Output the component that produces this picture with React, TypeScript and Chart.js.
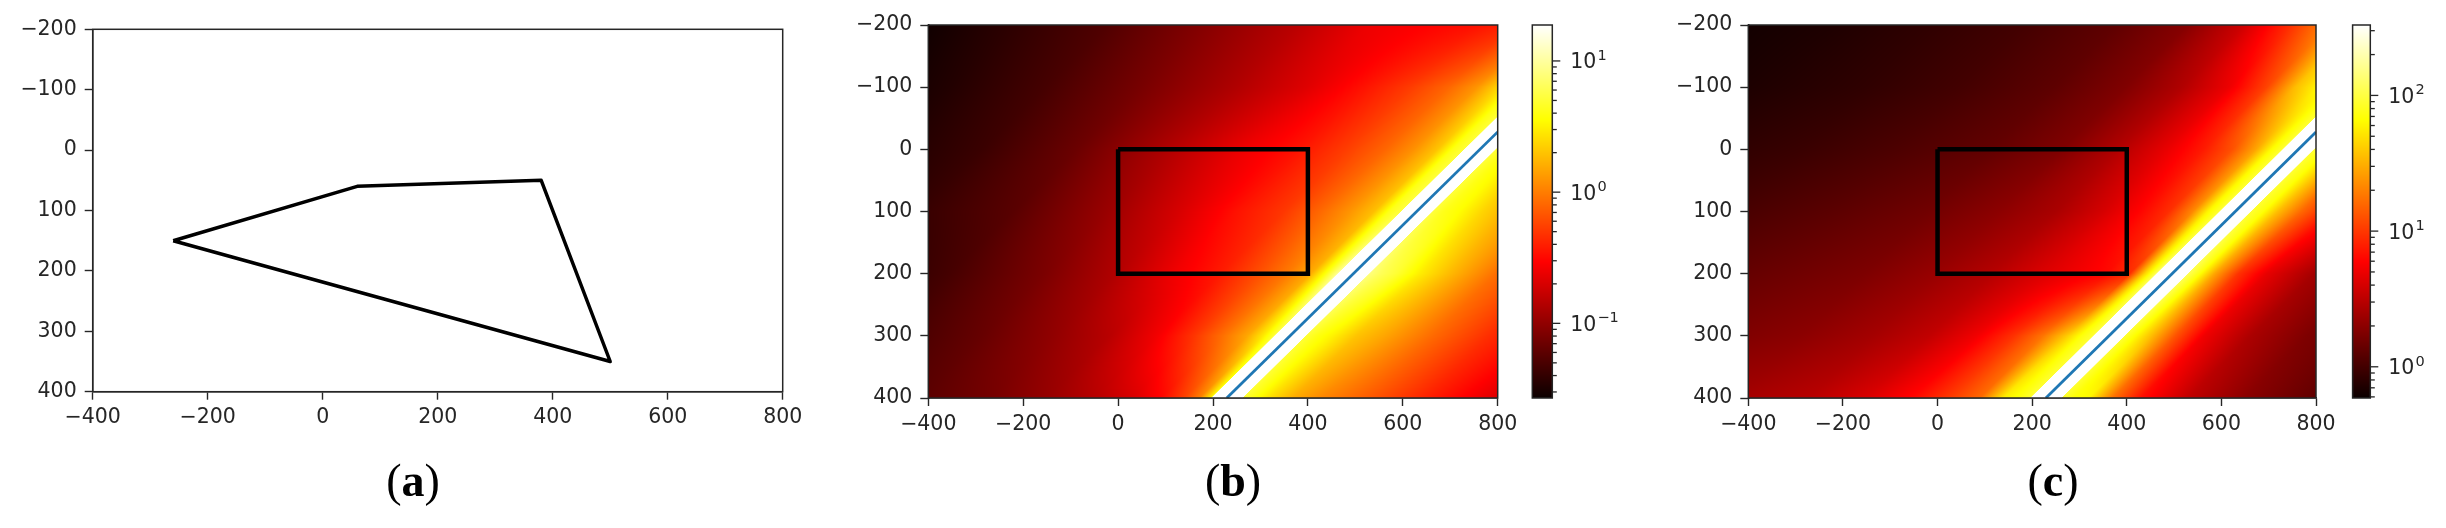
import React, { useEffect, useRef } from 'react';
import { Chart, registerables } from 'chart.js';
Chart.register(...registerables);

const W = 2446;
const H = 528;
const INK = '#262626';
const FONT_FAMILY = "'DejaVu Sans', sans-serif";
const TICK_FONT = { family: FONT_FAMILY, size: 20.5 };

// ---------- data ----------
// panel (a): closed polygon
const POLY_X = [-260, 60, 380, 500, -260];
const POLY_Y = [150, 60, 50, 350, 150];

// panels (b), (c): rectangle outline
const RECT_X = [0, 400, 400, 0, 0];
const RECT_Y = [0, 0, 200, 200, 0];

// panels (b), (c): blue line
const LINE_X = [229, 800];
const LINE_Y = [400, -28];

// axis ticks
const X_TICKS = [-400, -200, 0, 200, 400, 600, 800];
const Y_TICKS = [-200, -100, 0, 100, 200, 300, 400];

// heat maps: log10 of the field, sampled on rows of y and on horizontal
// offsets D = x - (x of the blue line at that y)
const ROW_Y = [-200, -100, 0, 100, 200, 300, 400];
const COL_D = [-1450, -1250, -1050, -850, -650, -500, -380, -280, -200, -140, -90, -58, -34, -30, 0, 30, 34, 58, 90, 140, 200, 300, 420, 580];

const B_LOG = [
  [-1.56, -1.42, -1.27, -1.05, -0.82, -0.60, -0.53, -0.47, -0.38, -0.20, 0.10, 0.40, 0.65, 2.00, 2.00, 2.00, 0.65, 0.60, 0.50, 0.30, 0.15, 0.00, -0.20, -0.45],
  [-1.60, -1.47, -1.32, -1.11, -0.87, -0.67, -0.46, -0.28, -0.10, 0.10, 0.40, 0.60, 0.70, 2.00, 2.00, 2.00, 0.70, 0.60, 0.50, 0.30, 0.15, 0.00, -0.20, -0.45],
  [-1.65, -1.50, -1.37, -1.16, -0.85, -0.60, -0.45, -0.27, -0.10, 0.08, 0.30, 0.60, 0.70, 2.00, 2.00, 2.00, 0.70, 0.60, 0.50, 0.30, 0.15, -0.05, -0.25, -0.50],
  [-1.70, -1.55, -1.39, -1.24, -0.96, -0.70, -0.46, -0.30, -0.08, 0.10, 0.28, 0.62, 0.72, 2.00, 2.00, 2.00, 0.72, 0.62, 0.55, 0.37, 0.20, -0.02, -0.25, -0.50],
  [-1.80, -1.65, -1.50, -1.32, -1.09, -0.86, -0.60, -0.42, -0.20, -0.02, 0.20, 0.60, 0.95, 2.00, 2.00, 2.00, 0.90, 0.80, 0.70, 0.48, 0.27, -0.06, -0.30, -0.55],
  [-1.80, -1.65, -1.50, -1.36, -1.18, -1.00, -0.83, -0.58, -0.30, -0.05, 0.18, 0.45, 0.70, 2.00, 2.00, 2.00, 0.70, 0.60, 0.50, 0.30, 0.17, -0.08, -0.34, -0.60],
  [-1.80, -1.65, -1.50, -1.38, -1.24, -1.12, -0.98, -0.84, -0.70, -0.52, -0.26, 0.00, 0.50, 2.00, 2.00, 2.00, 0.70, 0.60, 0.42, 0.20, 0.04, -0.15, -0.39, -0.69],
];

const C_LOG = [
  [-0.20, -0.15, -0.08, 0.00, 0.12, 0.28, 0.58, 0.98, 1.35, 1.70, 1.80, 1.85, 1.95, 3.20, 3.20, 3.20, 1.95, 1.85, 1.70, 1.30, 1.00, 0.60, 0.35, 0.15],
  [-0.20, -0.14, -0.08, 0.00, 0.11, 0.25, 0.45, 0.70, 1.05, 1.55, 1.80, 1.85, 1.95, 3.20, 3.20, 3.20, 1.95, 1.85, 1.70, 1.30, 1.00, 0.60, 0.35, 0.15],
  [-0.15, -0.10, -0.04, 0.04, 0.13, 0.25, 0.46, 0.68, 0.88, 1.10, 1.45, 1.80, 1.95, 3.20, 3.20, 3.20, 1.95, 1.85, 1.65, 1.25, 0.95, 0.60, 0.35, 0.15],
  [-0.12, -0.06, 0.02, 0.10, 0.19, 0.30, 0.42, 0.60, 0.79, 0.96, 1.33, 1.78, 1.95, 3.20, 3.20, 3.20, 1.95, 1.85, 1.55, 1.20, 0.90, 0.55, 0.32, 0.12],
  [-0.05, 0.01, 0.08, 0.16, 0.24, 0.35, 0.47, 0.62, 0.72, 0.80, 0.95, 1.65, 2.05, 3.20, 3.20, 3.20, 2.05, 1.85, 1.45, 0.98, 0.68, 0.40, 0.22, 0.05],
  [0.05, 0.10, 0.16, 0.22, 0.30, 0.40, 0.52, 0.72, 0.98, 1.25, 1.60, 1.85, 1.95, 3.20, 3.20, 3.20, 1.95, 1.80, 1.55, 1.12, 0.72, 0.43, 0.24, 0.10],
  [0.10, 0.18, 0.26, 0.33, 0.40, 0.48, 0.62, 0.80, 1.02, 1.20, 1.75, 1.85, 1.95, 3.20, 3.20, 3.20, 1.95, 1.85, 1.80, 1.25, 0.84, 0.52, 0.30, 0.11],
];

// colour-bar ranges (log10 of the bottom and top of each bar)
const B_CB_RANGE = [-1.569, 1.274];
const C_CB_RANGE = [-0.23, 2.519];

// ---------- helpers ----------
function hot(t: number): [number, number, number] {
  const c = Math.min(1, Math.max(0, t));
  const r = c < 0.365079 ? 0.0416 + (1 - 0.0416) * (c / 0.365079) : 1;
  const g = c < 0.365079 ? 0 : c < 0.746032 ? (c - 0.365079) / (0.746032 - 0.365079) : 1;
  const b = c < 0.746032 ? 0 : (c - 0.746032) / (1 - 0.746032);
  return [r * 255, g * 255, b * 255];
}

function locate(arr: number[], v: number): [number, number] {
  const n = arr.length;
  if (v <= arr[0]) return [0, 0];
  if (v >= arr[n - 1]) return [n - 2, 1];
  let i = 0;
  while (v > arr[i + 1]) i++;
  return [i, (v - arr[i]) / (arr[i + 1] - arr[i])];
}

const fmt = (v: number) => (v < 0 ? '\u2212' + Math.abs(v) : String(v));
const toPts = (xs: number[], ys: number[]) => xs.map((x, i) => ({ x, y: ys[i] }));

// ---------- plugins ----------
const heatPlugin = {
  id: 'heat',
  beforeDatasetsDraw(chart: any, _args: any, opts: any) {
    if (!opts || !opts.table) return;
    const { table, lo, hi } = opts;
    const area = chart.chartArea;
    const x0 = Math.floor(area.left);
    const y0 = Math.floor(area.top);
    const w = Math.ceil(area.right) - x0;
    const h = Math.ceil(area.bottom) - y0;
    const xs = chart.scales.x;
    const ys = chart.scales.y;
    const off = document.createElement('canvas');
    off.width = w;
    off.height = h;
    const octx = off.getContext('2d') as CanvasRenderingContext2D;
    const img = octx.createImageData(w, h);
    const slope = (LINE_X[1] - LINE_X[0]) / (LINE_Y[1] - LINE_Y[0]);
    const xv = new Float64Array(w);
    for (let i = 0; i < w; i++) xv[i] = xs.getValueForPixel(x0 + i + 0.5);
    for (let j = 0; j < h; j++) {
      const yv = ys.getValueForPixel(y0 + j + 0.5);
      const lx = LINE_X[0] + (yv - LINE_Y[0]) * slope;
      const [ri, rf] = locate(ROW_Y, yv);
      const ra = table[ri];
      const rb = table[ri + 1];
      for (let i = 0; i < w; i++) {
        const d = xv[i] - lx;
        const [ci, cf] = locate(COL_D, d);
        const a = ra[ci] + (ra[ci + 1] - ra[ci]) * cf;
        const b = rb[ci] + (rb[ci + 1] - rb[ci]) * cf;
        const L = a + (b - a) * rf;
        const [r, g, bl] = hot((L - lo) / (hi - lo));
        const k = (j * w + i) * 4;
        img.data[k] = r;
        img.data[k + 1] = g;
        img.data[k + 2] = bl;
        img.data[k + 3] = 255;
      }
    }
    octx.putImageData(img, 0, 0);
    const ctx = chart.ctx;
    ctx.save();
    ctx.beginPath();
    ctx.rect(area.left, area.top, area.right - area.left, area.bottom - area.top);
    ctx.clip();
    ctx.drawImage(off, x0, y0);
    ctx.restore();
  },
};

const framePlugin = {
  id: 'frame',
  afterDatasetsDraw(chart: any) {
    const a = chart.chartArea;
    const ctx = chart.ctx;
    ctx.save();
    ctx.strokeStyle = INK;
    ctx.lineWidth = 1.5;
    ctx.strokeRect(a.left, a.top, a.right - a.left, a.bottom - a.top);
    ctx.restore();
  },
};

const cbarPlugin = {
  id: 'cbar',
  beforeDatasetsDraw(chart: any, _args: any, opts: any) {
    if (!opts || opts.lo === undefined) return;
    const ys = chart.scales.y;
    const a = chart.chartArea;
    const ctx = chart.ctx;
    ctx.save();
    ctx.beginPath();
    ctx.rect(a.left, a.top, a.right - a.left, a.bottom - a.top);
    ctx.clip();
    for (let py = Math.floor(a.top); py < Math.ceil(a.bottom); py++) {
      const v = ys.getValueForPixel(py + 0.5);
      const t = (Math.log10(v) - opts.lo) / (opts.hi - opts.lo);
      const [r, g, b] = hot(t);
      ctx.fillStyle = `rgb(${Math.round(r)},${Math.round(g)},${Math.round(b)})`;
      ctx.fillRect(a.left, py, a.right - a.left, 1);
    }
    ctx.restore();
  },
  afterDraw(chart: any) {
    const ys = chart.scales.y;
    const a = chart.chartArea;
    const ctx = chart.ctx;
    ctx.save();
    ctx.strokeStyle = INK;
    ctx.fillStyle = INK;
    ctx.lineWidth = 1.3;
    for (const tk of ys.ticks) {
      const e = Math.log10(tk.value);
      const major = Math.abs(e - Math.round(e)) < 1e-6;
      const py = ys.getPixelForValue(tk.value);
      ctx.beginPath();
      ctx.moveTo(a.right, py);
      ctx.lineTo(a.right + (major ? 8 : 4.5), py);
      ctx.stroke();
      if (major) {
        const n = Math.round(e);
        const x = a.right + 18;
        const base = py + 7.5;
        ctx.textBaseline = 'alphabetic';
        ctx.textAlign = 'left';
        ctx.font = `20.5px ${FONT_FAMILY}`;
        ctx.fillText('10', x, base);
        const w10 = ctx.measureText('10').width;
        ctx.font = `14.5px ${FONT_FAMILY}`;
        ctx.fillText(n < 0 ? '\u2212' + Math.abs(n) : String(n), x + w10 + 1, base - 8.5);
      }
    }
    ctx.lineWidth = 1.5;
    ctx.strokeRect(a.left, a.top, a.right - a.left, a.bottom - a.top);
    ctx.restore();
  },
};

// ---------- chart configs ----------
type Box = { left: number; right: number; top: number; bottom: number };

function axes() {
  const common = {
    type: 'linear' as const,
    grid: { display: true, drawOnChartArea: false, drawTicks: true, tickLength: 8, tickColor: INK, tickWidth: 1.4 },
    border: { display: true, color: INK, width: 1.5 },
  };
  return {
    x: {
      ...common,
      min: -400,
      max: 800,
      afterBuildTicks: (s: any) => { s.ticks = X_TICKS.map((v) => ({ value: v })); },
      afterFit: (s: any) => { s.height = 50; },
      ticks: { font: TICK_FONT, color: INK, padding: 6, autoSkip: false, maxRotation: 0, minRotation: 0, callback: (v: any) => fmt(Number(v)) },
    },
    y: {
      ...common,
      min: -200,
      max: 400,
      reverse: true,
      afterBuildTicks: (s: any) => { s.ticks = Y_TICKS.map((v) => ({ value: v })); },
      afterFit: (s: any) => { s.width = 80; },
      ticks: { font: TICK_FONT, color: INK, padding: 8, autoSkip: false, callback: (v: any) => fmt(Number(v)) },
    },
  };
}

function padFor(box: Box) {
  return { left: box.left - 80, right: W - box.right, top: box.top, bottom: H - box.bottom - 50 };
}

function polygonConfig(box: Box): any {
  return {
    type: 'scatter',
    data: {
      datasets: [
        { data: toPts(POLY_X, POLY_Y), showLine: true, borderColor: '#000', borderWidth: 3.5, pointRadius: 0, borderJoinStyle: 'round', clip: 0 },
      ],
    },
    options: {
      responsive: false,
      animation: false,
      events: [],
      layout: { padding: padFor(box) },
      plugins: { legend: { display: false }, tooltip: { enabled: false }, title: { display: false } },
      scales: axes(),
    },
    plugins: [framePlugin],
  };
}

function heatConfig(box: Box, table: number[][], range: number[]): any {
  return {
    type: 'scatter',
    data: {
      datasets: [
        { data: toPts(RECT_X, RECT_Y), showLine: true, borderColor: '#000', borderWidth: 4.5, pointRadius: 0, borderJoinStyle: 'miter', clip: 0 },
        { data: toPts(LINE_X, LINE_Y), showLine: true, borderColor: '#1f77b4', borderWidth: 2.8, pointRadius: 0, clip: 0 },
      ],
    },
    options: {
      responsive: false,
      animation: false,
      events: [],
      layout: { padding: padFor(box) },
      plugins: {
        legend: { display: false },
        tooltip: { enabled: false },
        title: { display: false },
        heat: { table, lo: range[0], hi: range[1] },
      },
      scales: axes(),
    },
    plugins: [heatPlugin, framePlugin],
  };
}

function cbarConfig(left: number, right: number, top: number, bottom: number, range: number[]): any {
  const lo = range[0];
  const hi = range[1];
  return {
    type: 'scatter',
    data: { datasets: [] },
    options: {
      responsive: false,
      animation: false,
      events: [],
      layout: { padding: { left, right: W - right - 70, top, bottom: H - bottom } },
      plugins: { legend: { display: false }, tooltip: { enabled: false }, cbar: { lo, hi } },
      scales: {
        x: { display: false, min: 0, max: 1 },
        y: {
          type: 'logarithmic',
          position: 'right',
          min: Math.pow(10, lo),
          max: Math.pow(10, hi),
          afterBuildTicks: (s: any) => {
            const list: any[] = [];
            for (let e = Math.floor(lo); e <= Math.ceil(hi); e++) {
              for (let m = 1; m <= 9; m++) {
                const v = m * Math.pow(10, e);
                const lv = Math.log10(v);
                if (lv >= lo && lv <= hi) list.push({ value: v, major: m === 1 });
              }
            }
            s.ticks = list;
          },
          afterFit: (s: any) => { s.width = 70; },
          grid: { display: false, drawTicks: false },
          border: { display: false },
          ticks: { display: false },
        },
      },
    },
    plugins: [cbarPlugin],
  };
}

// ---------- components ----------
function ChartLayer({ make }: { make: () => any }) {
  const ref = useRef<HTMLCanvasElement | null>(null);
  useEffect(() => {
    if (!ref.current) return;
    const chart = new Chart(ref.current, make());
    return () => chart.destroy();
  }, []);
  return (
    <canvas
      ref={ref}
      width={W}
      height={H}
      style={{ position: 'absolute', left: 0, top: 0, width: W, height: H }}
    />
  );
}

function Caption({ cx, letter }: { cx: number; letter: string }) {
  return (
    <div
      style={{
        position: 'absolute',
        left: cx - 100,
        top: 458,
        width: 200,
        textAlign: 'center',
        fontFamily: "'Liberation Serif', 'Times New Roman', serif",
        fontSize: 46,
        lineHeight: '46px',
        color: '#000',
      }}
    >
      (<b>{letter}</b>)
    </div>
  );
}

const BOX_A: Box = { left: 92.7, right: 782.7, top: 29.3, bottom: 391.7 };
const BOX_B: Box = { left: 928.3, right: 1497.7, top: 25, bottom: 398 };
const BOX_C: Box = { left: 1748.3, right: 2316, top: 25, bottom: 398 };

export default function App() {
  return (
    <div style={{ position: 'absolute', left: 0, top: 0, width: W, height: H, background: '#fff', overflow: 'hidden' }}>
      <ChartLayer make={() => polygonConfig(BOX_A)} />
      <ChartLayer make={() => heatConfig(BOX_B, B_LOG, B_CB_RANGE)} />
      <ChartLayer make={() => heatConfig(BOX_C, C_LOG, C_CB_RANGE)} />
      <ChartLayer make={() => cbarConfig(1532.3, 1552.3, 25, 398, B_CB_RANGE)} />
      <ChartLayer make={() => cbarConfig(2352.6, 2370.3, 25, 398, C_CB_RANGE)} />
      <Caption cx={413} letter="a" />
      <Caption cx={1233} letter="b" />
      <Caption cx={2053} letter="c" />
    </div>
  );
}
